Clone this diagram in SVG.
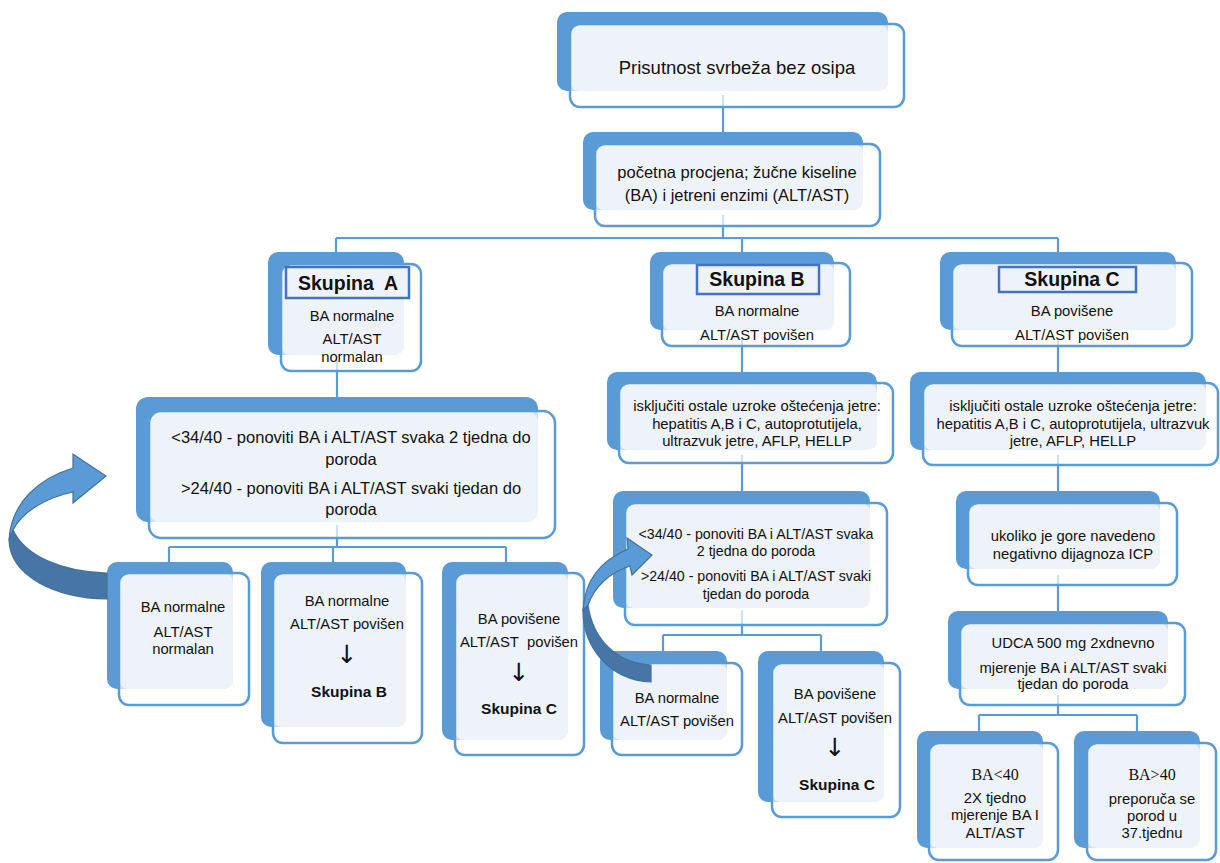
<svg xmlns="http://www.w3.org/2000/svg" width="1220" height="863" viewBox="0 0 1220 863">
<style>
.bk{fill:#5b9bd5}
.fw{fill:#fff;fill-opacity:.7}
.lt{fill:#eef3fa}
.fs{fill:none;stroke:#5b9bd5;stroke-width:2.5}
.hd{fill:#eef3fa;stroke:#4472c4;stroke-width:2.5}
.cn{fill:none;stroke:#5b9bd5;stroke-width:2.2}
text{font-family:"Liberation Sans",Arial,sans-serif;fill:#111;text-anchor:middle}
.t19{font-size:18.5px}
.t16{font-size:16.5px}
.t15{font-size:14.8px}
.t14{font-size:14.2px}
.hb{font-size:19.5px;font-weight:bold}
.sb{font-size:15.5px;font-weight:bold}
.ar{font-family:"DejaVu Sans",sans-serif;font-size:25px}
.sf{font-family:"Liberation Serif","Times New Roman",serif;font-size:16px}
.a1{fill:#5b9bd5;stroke:#41719c;stroke-width:1.2}
.a2{fill:#4675a6;stroke:#41719c;stroke-width:1.2}
</style>
<g id="connectors">
<path class="cn" d="M723,95V132M723,215V238M336,238H1058M336,238V252M742,238V252M1058,238V252"/>
<path class="cn" d="M337,360V398M337,525V547M169,547H506M169,547V562M333,547V562M506,547V562"/>
<path class="cn" d="M742,340V372M742,455V491M742,610V635M663,635H821M663,635V651M821,635V651"/>
<path class="cn" d="M1058,340V372M1058,455V491M1058,575V611M1058,695V715M979,715H1137M979,715V731M1137,715V731"/>
</g>
<g id="n-top">
<rect class="bk" x="557" y="12" width="331" height="79" rx="10"/>
<rect class="fw" x="570" y="24" width="334" height="83" rx="10"/>
<rect class="lt" x="570" y="24" width="318" height="67" rx="9"/>
<rect class="fs" x="570" y="24" width="334" height="83" rx="10"/>
<text class="t19" x="737" y="74">Prisutnost svrbeža bez osipa</text>
</g>
<g id="n-procjena">
<rect class="bk" x="583" y="132" width="280" height="78" rx="10"/>
<rect class="fw" x="595" y="144" width="285" height="82" rx="10"/>
<rect class="lt" x="595" y="144" width="268" height="66" rx="9"/>
<rect class="fs" x="595" y="144" width="285" height="82" rx="10"/>
<text class="t16"><tspan x="737" y="178">početna procjena; žučne kiseline</tspan><tspan x="737" y="201">(BA) i jetreni enzimi (ALT/AST)</tspan></text>
</g>
<g id="n-skupinaA">
<rect class="bk" x="268" y="252" width="136" height="103" rx="10"/>
<rect class="fw" x="281" y="264" width="140" height="107" rx="10"/>
<rect class="lt" x="281" y="264" width="123" height="91" rx="9"/>
<rect class="fs" x="281" y="264" width="140" height="107" rx="10"/>
<rect class="hd" x="286" y="267" width="123" height="31"/>
<text class="hb" x="348" y="290">Skupina&#160; A</text>
<text class="t15"><tspan x="352" y="321">BA normalne</tspan><tspan x="352" y="344">ALT/AST</tspan><tspan x="352" y="362">normalan</tspan></text>
</g>
<g id="n-A1">
<rect class="bk" x="136" y="397" width="402" height="125" rx="12"/>
<rect class="fw" x="149" y="411" width="406" height="127" rx="12"/>
<rect class="lt" x="149" y="411" width="389" height="111" rx="11"/>
<rect class="fs" x="149" y="411" width="406" height="127" rx="12"/>
<text class="t16"><tspan x="351" y="443">&lt;34/40 - ponoviti BA i ALT/AST svaka 2 tjedna do</tspan><tspan x="351" y="465">poroda</tspan><tspan x="351" y="494">&gt;24/40 - ponoviti BA i ALT/AST svaki tjedan do</tspan><tspan x="351" y="515">poroda</tspan></text>
</g>
<g id="n-A-c1">
<rect class="bk" x="107" y="562" width="126" height="127" rx="10"/>
<rect class="fw" x="119" y="573" width="130" height="132" rx="10"/>
<rect class="lt" x="119" y="573" width="114" height="116" rx="9"/>
<rect class="fs" x="119" y="573" width="130" height="132" rx="10"/>
<text class="t15"><tspan x="183" y="612">BA normalne</tspan><tspan x="183" y="637">ALT/AST</tspan><tspan x="183" y="654">normalan</tspan></text>
</g>
<g id="n-A-c2">
<rect class="bk" x="261" y="562" width="145" height="165" rx="10"/>
<rect class="fw" x="273" y="573" width="149" height="170" rx="10"/>
<rect class="lt" x="273" y="573" width="133" height="154" rx="9"/>
<rect class="fs" x="273" y="573" width="149" height="170" rx="10"/>
<text class="t15"><tspan x="347" y="606">BA normalne</tspan><tspan x="347" y="629">ALT/AST povišen</tspan></text>
<text class="ar" x="347" y="663">↓</text>
<text class="sb" x="349" y="697">Skupina B</text>
</g>
<g id="n-A-c3">
<rect class="bk" x="442" y="562" width="126" height="178" rx="10"/>
<rect class="fw" x="455" y="573" width="129" height="182" rx="10"/>
<rect class="lt" x="455" y="573" width="113" height="167" rx="9"/>
<rect class="fs" x="455" y="573" width="129" height="182" rx="10"/>
<text class="t15"><tspan x="519" y="624">BA povišene</tspan><tspan x="519" y="647">ALT/AST&#160; povišen</tspan></text>
<text class="ar" x="519" y="681">↓</text>
<text class="sb" x="519" y="714">Skupina C</text>
</g>
<g id="n-skupinaB">
<rect class="bk" x="650" y="252" width="184" height="78" rx="10"/>
<rect class="fw" x="662" y="263" width="188" height="83" rx="10"/>
<rect class="lt" x="662" y="263" width="172" height="67" rx="9"/>
<rect class="fs" x="662" y="263" width="188" height="83" rx="10"/>
<rect class="hd" x="697" y="265" width="122" height="29"/>
<text class="hb" x="757" y="286">Skupina B</text>
<text class="t15"><tspan x="757" y="316">BA normalne</tspan><tspan x="757" y="340">ALT/AST povišen</tspan></text>
</g>
<g id="n-B1">
<rect class="bk" x="607" y="372" width="270" height="78" rx="10"/>
<rect class="fw" x="619" y="383" width="274" height="80" rx="10"/>
<rect class="lt" x="619" y="383" width="258" height="67" rx="9"/>
<rect class="fs" x="619" y="383" width="274" height="80" rx="10"/>
<text class="t15"><tspan x="757" y="411">isključiti ostale uzroke oštećenja jetre:</tspan><tspan x="757" y="429">hepatitis A,B i C, autoprotutijela,</tspan><tspan x="757" y="446">ultrazvuk jetre, AFLP, HELLP</tspan></text>
</g>
<g id="n-B2">
<rect class="bk" x="613" y="491" width="257" height="117" rx="10"/>
<rect class="fw" x="625" y="503" width="262" height="122" rx="10"/>
<rect class="lt" x="625" y="503" width="245" height="105" rx="9"/>
<rect class="fs" x="625" y="503" width="262" height="122" rx="10"/>
<text class="t14"><tspan x="756" y="539">&lt;34/40 - ponoviti BA i ALT/AST svaka</tspan><tspan x="756" y="556">2 tjedna do poroda</tspan><tspan x="756" y="581">&gt;24/40 - ponoviti BA i ALT/AST svaki</tspan><tspan x="756" y="599">tjedan do poroda</tspan></text>
</g>
<g id="n-B-c1">
<rect class="bk" x="600" y="651" width="127" height="89" rx="10"/>
<rect class="fw" x="612" y="663" width="130" height="92" rx="10"/>
<rect class="lt" x="612" y="663" width="115" height="77" rx="9"/>
<rect class="fs" x="612" y="663" width="130" height="92" rx="10"/>
<text class="t15"><tspan x="677" y="703">BA normalne</tspan><tspan x="677" y="726">ALT/AST povišen</tspan></text>
</g>
<g id="n-B-c2">
<rect class="bk" x="758" y="651" width="126" height="151" rx="10"/>
<rect class="fw" x="772" y="663" width="128" height="154" rx="10"/>
<rect class="lt" x="772" y="663" width="112" height="139" rx="9"/>
<rect class="fs" x="772" y="663" width="128" height="154" rx="10"/>
<text class="t15"><tspan x="835" y="699">BA povišene</tspan><tspan x="835" y="723">ALT/AST povišen</tspan></text>
<text class="ar" x="835" y="756">↓</text>
<text class="sb" x="837" y="790">Skupina C</text>
</g>
<g id="n-skupinaC">
<rect class="bk" x="940" y="252" width="236" height="78" rx="10"/>
<rect class="fw" x="952" y="263" width="240" height="83" rx="10"/>
<rect class="lt" x="952" y="263" width="224" height="67" rx="9"/>
<rect class="fs" x="952" y="263" width="240" height="83" rx="10"/>
<rect class="hd" x="999" y="267" width="137" height="25"/>
<text class="hb" x="1072" y="286">Skupina C</text>
<text class="t15"><tspan x="1072" y="316">BA povišene</tspan><tspan x="1072" y="340">ALT/AST povišen</tspan></text>
</g>
<g id="n-C1">
<rect class="bk" x="910" y="372" width="296" height="78" rx="10"/>
<rect class="fw" x="923" y="383" width="295" height="82" rx="10"/>
<rect class="lt" x="923" y="383" width="283" height="67" rx="9"/>
<rect class="fs" x="923" y="383" width="295" height="82" rx="10"/>
<text class="t15"><tspan x="1073" y="411">isključiti ostale uzroke oštećenja jetre:</tspan><tspan x="1073" y="429">hepatitis A,B i C, autoprotutijela, ultrazvuk</tspan><tspan x="1073" y="446">jetre, AFLP, HELLP</tspan></text>
</g>
<g id="n-C2">
<rect class="bk" x="956" y="491" width="204" height="78" rx="10"/>
<rect class="fw" x="968" y="503" width="209" height="82" rx="10"/>
<rect class="lt" x="968" y="503" width="192" height="66" rx="9"/>
<rect class="fs" x="968" y="503" width="209" height="82" rx="10"/>
<text class="t15"><tspan x="1073" y="541">ukoliko je gore navedeno</tspan><tspan x="1073" y="559">negativno dijagnoza ICP</tspan></text>
</g>
<g id="n-C3">
<rect class="bk" x="948" y="611" width="220" height="78" rx="10"/>
<rect class="fw" x="960" y="623" width="225" height="82" rx="10"/>
<rect class="lt" x="960" y="623" width="208" height="66" rx="9"/>
<rect class="fs" x="960" y="623" width="225" height="82" rx="10"/>
<text class="t15"><tspan x="1073" y="648">UDCA 500 mg 2xdnevno</tspan><tspan x="1073" y="673">mjerenje BA i ALT/AST svaki</tspan><tspan x="1073" y="689">tjedan do poroda</tspan></text>
</g>
<g id="n-C-c1">
<rect class="bk" x="917" y="731" width="126" height="117" rx="10"/>
<rect class="fw" x="929" y="743" width="129" height="117" rx="10"/>
<rect class="lt" x="929" y="743" width="114" height="105" rx="9"/>
<rect class="fs" x="929" y="743" width="129" height="117" rx="10"/>
<text class="sf" x="995" y="780">BA&lt;40</text>
<text class="t15"><tspan x="995" y="803">2X tjedno</tspan><tspan x="995" y="820">mjerenje BA I</tspan><tspan x="995" y="838">ALT/AST</tspan></text>
</g>
<g id="n-C-c2">
<rect class="bk" x="1074" y="731" width="126" height="117" rx="10"/>
<rect class="fw" x="1087" y="743" width="129" height="117" rx="10"/>
<rect class="lt" x="1087" y="743" width="113" height="105" rx="9"/>
<rect class="fs" x="1087" y="743" width="129" height="117" rx="10"/>
<text class="sf" x="1152" y="780">BA&gt;40</text>
<text class="t15"><tspan x="1152" y="804">preporuča se</tspan><tspan x="1152" y="821">porod u</tspan><tspan x="1152" y="838">37.tjednu</tspan></text>
</g>
<g id="curved-arrows">
<path class="a2" d="M107,573 C62,572 25,556 13,530 L9,540 C10,576 55,598 107,599 Z"/>
<path class="a1" d="M9,540 C11,502 40,478 73,468 L73,454 L106,476 L73,503 L73,492 C45,498 22,512 13,530 Z"/>
<path class="a2" d="M651,665 C617,663 593,640 588,605 L583,610 C583,648 610,680 651,682 Z"/>
<path class="a1" d="M583,610 C585,580 600,561 628,549 L627,538 L652,555 L632,575 L630,566 C608,573 594,588 588,605 Z"/>
</g>
</svg>
